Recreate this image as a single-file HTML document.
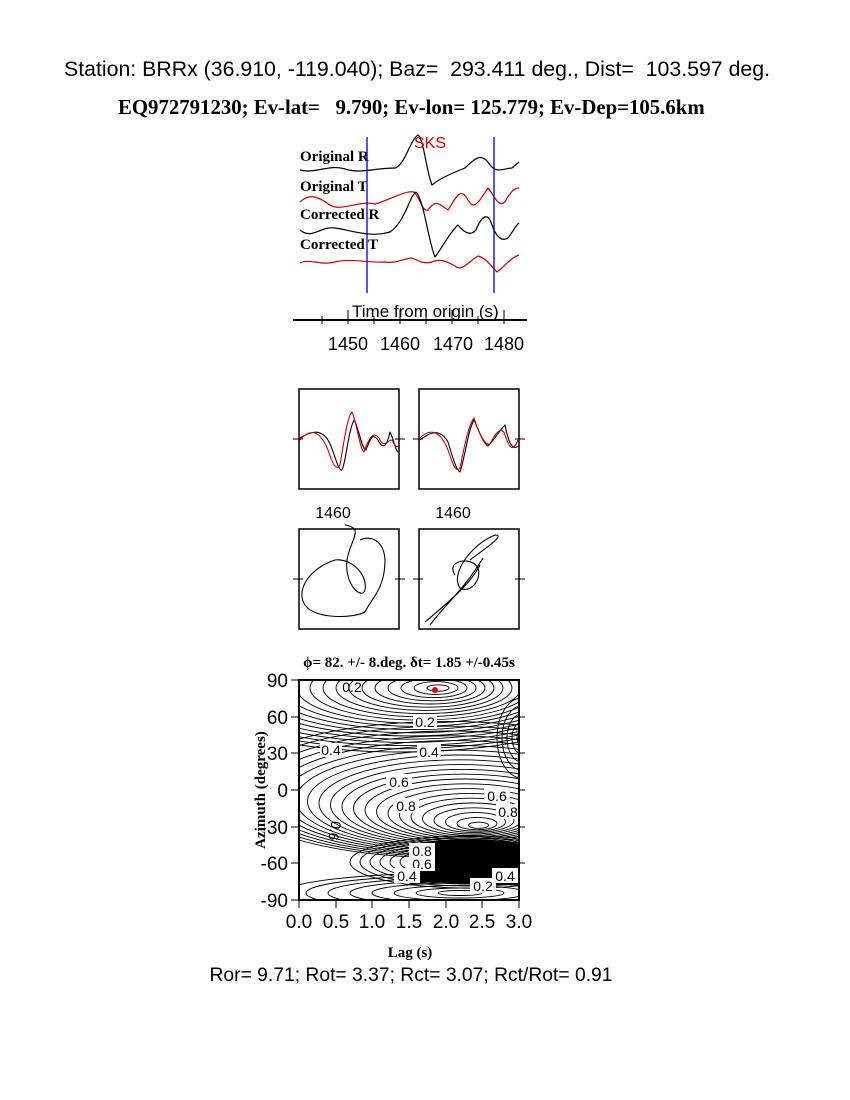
<!DOCTYPE html>
<html><head><style>
body{margin:0;background:#fff;width:850px;height:1100px;position:relative;overflow:hidden}
.t{position:absolute;white-space:nowrap}
</style></head><body>
<div class="t" style="left:64px;top:57px;font:21.3px 'Liberation Sans',sans-serif">Station: BRRx (36.910, -119.040); Baz=&nbsp; 293.411 deg., Dist=&nbsp; 103.597 deg.</div>
<div class="t" style="left:118px;top:96px;font:bold 20.8px 'Liberation Serif',serif">EQ972791230; Ev-lat=&nbsp;&nbsp; 9.790; Ev-lon= 125.779; Ev-Dep=105.6km</div>
<svg width="850" height="1100" style="position:absolute;left:0;top:0" font-family="Liberation Sans, sans-serif">
<defs><clipPath id="c"><rect x="299" y="680" width="220" height="220"/></clipPath></defs>
<g fill="none" stroke-width="1.2" stroke-linejoin="round">
<path stroke="#000" d="M300,170 C315,174 330,164 345,169 S375,168 395,168 C405,165 410,140 418,135 C424,140 426,170 432,185 C440,178 455,172 465,168 C475,158 482,152 490,165 C497,174 505,168 512,168 L519,162"/>
<path stroke="#c00" d="M300,202 C310,192 320,198 330,205 S360,200 375,204 C390,200 405,190 414,192 C420,198 422,212 428,210 C436,198 440,205 448,210 C455,200 460,185 468,200 C474,212 480,200 488,188 C494,195 498,208 505,202 C510,192 515,188 519,188"/>
<path stroke="#000" d="M300,230 C312,240 320,226 335,228 C350,230 370,238 390,232 C405,222 410,195 416,192 C424,200 428,240 435,257 C442,248 450,232 458,225 C466,235 472,235 476,230 C482,215 488,212 492,225 C496,237 502,242 508,238 C514,230 516,225 519,223"/>
<path stroke="#c00" d="M300,263 C310,258 320,266 335,262 S370,263 385,262 C395,264 405,258 412,258 C420,262 425,264 432,262 C440,258 448,262 455,266 C462,272 468,262 478,256 C486,258 490,265 497,272 C503,268 510,258 519,255"/>
</g>
<g font-family="Liberation Serif,serif" font-weight="bold" font-size="15">
<text x="300" y="161">Original R</text><text x="300" y="191">Original T</text>
<text x="300" y="219">Corrected R</text><text x="300" y="249">Corrected T</text></g>
<line x1="367" y1="137" x2="367" y2="293" stroke="#00c" stroke-width="1.3"/>
<line x1="494" y1="137" x2="494" y2="293" stroke="#00c" stroke-width="1.3"/>
<text x="414" y="148" fill="#c00" font-size="16">SKS</text>
<text x="352" y="317" font-size="17">Time from origin (s)</text>
<line x1="293" y1="320" x2="527" y2="320" stroke="#000" stroke-width="2"/>
<g stroke="#000"><line x1="322" y1="316" x2="322" y2="324"/><line x1="348" y1="310" x2="348" y2="324"/><line x1="374" y1="316" x2="374" y2="324"/><line x1="400" y1="310" x2="400" y2="324"/><line x1="426" y1="316" x2="426" y2="324"/><line x1="452" y1="310" x2="452" y2="324"/><line x1="478" y1="316" x2="478" y2="324"/><line x1="504" y1="310" x2="504" y2="324"/></g>
<g font-size="18" text-anchor="middle"><text x="348" y="350">1450</text><text x="400" y="350">1460</text><text x="453" y="350">1470</text><text x="504" y="350">1480</text></g>
<g fill="none" stroke="#000" stroke-width="1.5"><rect x="299" y="389" width="100" height="100"/><rect x="419" y="389" width="100" height="100"/><rect x="299" y="529" width="100" height="100"/><rect x="419" y="529" width="100" height="100"/></g>
<g stroke="#000"><line x1="293" y1="439" x2="303" y2="439"/><line x1="413" y1="439" x2="423" y2="439"/><line x1="293" y1="579" x2="303" y2="579"/><line x1="413" y1="579" x2="423" y2="579"/><line x1="395" y1="439" x2="405" y2="439"/><line x1="515" y1="439" x2="525" y2="439"/><line x1="395" y1="579" x2="405" y2="579"/><line x1="515" y1="579" x2="525" y2="579"/></g>
<g fill="none" stroke-width="1.1" stroke-linejoin="round">
<path stroke="#000" d="M300,438 C310,432 320,428 328,440 C334,450 338,472 342,470 C346,462 348,432 354,420 C358,425 362,450 366,450 C370,440 372,432 378,440 C382,448 386,450 390,432 C394,440 396,452 398,452"/>
<path stroke="#c00" d="M300,440 C310,428 320,430 328,450 C332,462 336,472 340,465 C344,440 348,415 352,412 C356,420 360,450 364,452 C368,440 374,428 380,440 C384,448 388,440 392,440 C395,446 397,448 398,446"/>
<path stroke="#000" d="M420,440 C430,432 440,428 448,442 C452,455 456,470 460,472 C464,462 468,430 474,420 C478,428 482,442 488,446 C494,440 500,430 505,425 C508,440 512,452 518,446"/>
<path stroke="#c00" d="M420,438 C430,428 440,430 448,450 C452,462 456,474 460,468 C464,448 468,426 474,418 C478,430 484,446 490,444 C496,432 500,428 504,432 C508,445 512,455 518,440"/>
<path stroke="#000" d="M345,525 C365,528 350,540 347,560 C344,585 362,600 365,590 C368,575 352,558 335,560 C310,568 295,590 305,605 C315,620 355,618 365,612 C370,600 385,590 385,560 C384,540 370,535 360,540"/>
<path stroke="#000" d="M425,622 C445,605 470,585 480,565 M430,625 C445,605 465,588 483,558 M470,560 C490,545 505,535 495,535 C470,545 450,575 460,588 C470,594 482,580 478,568 C472,556 445,560 455,575"/>
</g>
<g font-size="16" text-anchor="middle"><text x="333" y="518">1460</text><text x="453" y="518">1460</text></g>
<text x="409" y="667" font-family="Liberation Serif,serif" font-weight="bold" font-size="15" text-anchor="middle">ϕ= 82. +/- 8.deg. δt= 1.85 +/-0.45s</text>
<g clip-path="url(#c)" fill="none" stroke="#000" stroke-width="0.9" id="cont">
<path d="M410,845 C450,838 520,840 520,845 L520,885 C480,885 430,878 410,885 Z" fill="#000"/>
</g>
<g font-size="14" text-anchor="middle" fill="#000"><rect x="413" y="714" width="24" height="15" fill="#fff"/><text x="425" y="727">0.2</text>
<rect x="417" y="744" width="24" height="15" fill="#fff"/><text x="429" y="757">0.4</text>
<rect x="386" y="774" width="26" height="15" fill="#fff"/><text x="399" y="787">0.6</text><rect x="393" y="798" width="26" height="15" fill="#fff"/><text x="406" y="811">0.8</text>
<rect x="484" y="788" width="26" height="15" fill="#fff"/><text x="497" y="801">0.6</text><rect x="496" y="804" width="24" height="15" fill="#fff"/><text x="508" y="817">0.8</text>
<rect x="409" y="843" width="26" height="15" fill="#fff"/><text x="422" y="856">0.8</text><rect x="409" y="856" width="26" height="15" fill="#fff"/><text x="422" y="869">0.6</text>
<rect x="394" y="868" width="26" height="15" fill="#fff"/><text x="407" y="881">0.4</text><rect x="470" y="878" width="26" height="15" fill="#fff"/><text x="483" y="891">0.2</text>
<rect x="492" y="868" width="26" height="15" fill="#fff"/><text x="505" y="881">0.4</text>
<rect x="320" y="743" width="22" height="14" fill="#fff"/><text x="331" y="755">0.4</text><text x="352" y="692">0.2</text><text x="330" y="830" transform="rotate(100 330 830)">0.6</text></g>
<circle cx="435" cy="690" r="3" fill="#e00"/>
<rect x="299" y="680" width="220" height="220" fill="none" stroke="#000" stroke-width="2"/>
<g stroke="#000" stroke-width="1">
<line x1="299" y1="900" x2="299" y2="908"/><line x1="336" y1="900" x2="336" y2="908"/><line x1="372" y1="900" x2="372" y2="908"/><line x1="409" y1="900" x2="409" y2="908"/><line x1="446" y1="900" x2="446" y2="908"/><line x1="482" y1="900" x2="482" y2="908"/><line x1="519" y1="900" x2="519" y2="908"/>
<line x1="291" y1="680" x2="299" y2="680"/><line x1="291" y1="717" x2="299" y2="717"/><line x1="291" y1="753" x2="299" y2="753"/><line x1="291" y1="790" x2="299" y2="790"/><line x1="291" y1="827" x2="299" y2="827"/><line x1="291" y1="863" x2="299" y2="863"/><line x1="291" y1="900" x2="299" y2="900"/>
<line x1="519" y1="717" x2="525" y2="717"/><line x1="519" y1="753" x2="525" y2="753"/><line x1="519" y1="790" x2="525" y2="790"/><line x1="519" y1="827" x2="525" y2="827"/><line x1="519" y1="863" x2="525" y2="863"/>
</g>
<g font-size="19" text-anchor="end"><text x="288" y="687">90</text><text x="288" y="724">60</text><text x="288" y="760">30</text><text x="288" y="797">0</text><text x="288" y="834">-30</text><text x="288" y="870">-60</text><text x="288" y="907">-90</text></g>
<g font-size="19" text-anchor="middle"><text x="299" y="928">0.0</text><text x="336" y="928">0.5</text><text x="372" y="928">1.0</text><text x="409" y="928">1.5</text><text x="446" y="928">2.0</text><text x="482" y="928">2.5</text><text x="519" y="928">3.0</text></g>
<text x="410" y="957" font-family="Liberation Serif,serif" font-weight="bold" font-size="15" text-anchor="middle">Lag (s)</text>
<text x="265" y="790" font-family="Liberation Serif,serif" font-weight="bold" font-size="15" text-anchor="middle" transform="rotate(-90 265 790)">Azimuth (degrees)</text>
<text x="411" y="981" font-size="19.3" text-anchor="middle">Ror= 9.71; Rot= 3.37; Rct= 3.07; Rct/Rot= 0.91</text>
</svg>
<script>
var g=document.getElementById('cont'),ns='http://www.w3.org/2000/svg';
function E(cx,cy,rx,ry){var e=document.createElementNS(ns,'ellipse');e.setAttribute('cx',cx);e.setAttribute('cy',cy);e.setAttribute('rx',rx);e.setAttribute('ry',ry);g.insertBefore(e,g.firstChild);}
for(var i=1;i<=20;i++){E(440-i*2,688,i*11,i*3.2);}
for(var i=1;i<=22;i++){E(480-i*1.5,827-i*1.7,i*10,i*3.1);}
for(var i=1;i<=8;i++){E(460,893,i*22,i*2.5);}
for(var i=1;i<=5;i++){E(522,738,i*5,i*8);}
for(var i=1;i<=6;i++){E(470,862,60+i*10,14+i*2);}
</script>
</body></html>
